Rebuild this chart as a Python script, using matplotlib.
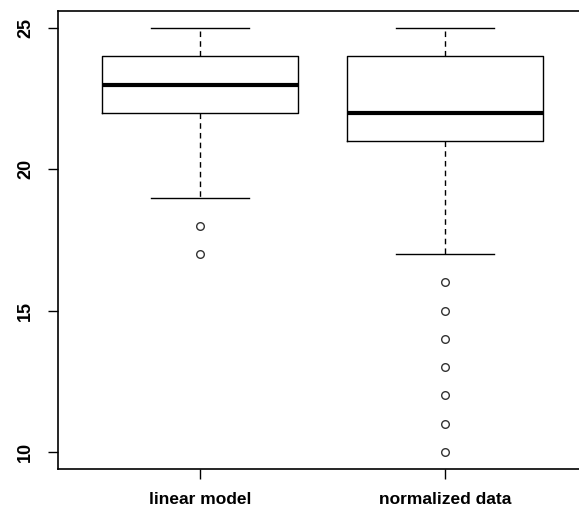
import matplotlib
matplotlib.use("Agg")
import matplotlib.pyplot as plt

# Five-number summaries and outliers for each group
groups = ["linear model", "normalized data"]
whisker_low = [19, 17]
q1 = [22, 21]
median = [23, 22]
q3 = [24, 24]
whisker_high = [25, 25]
outliers = [[18, 17], [16, 15, 14, 13, 12, 11, 10]]
y_ticks = [10, 15, 20, 25]

stats = [
    dict(label=g, whislo=lo, q1=a, med=m, q3=b, whishi=hi, fliers=f)
    for g, lo, a, m, b, hi, f in zip(groups, whisker_low, q1, median, q3,
                                      whisker_high, outliers)
]

W, H = 579, 519
fig = plt.figure(figsize=(W / 100, H / 100), dpi=100)
ax = fig.add_axes([58 / W, (H - 469) / H, (587 - 58) / W, (469 - 11) / H])

ax.bxp(
    stats,
    positions=[1, 2],
    widths=0.8,
    capwidths=0.4,
    boxprops=dict(color="black", linewidth=1.0),
    medianprops=dict(color="black", linewidth=3.0, solid_capstyle="butt"),
    whiskerprops=dict(color="black", linewidth=1.0, linestyle=(0, (4, 3))),
    capprops=dict(color="black", linewidth=1.0),
    flierprops=dict(marker="o", markersize=5.5, markerfacecolor="none",
                    markeredgecolor="#333333", markeredgewidth=1.0),
)

ax.set_xlim(0.42, 2.58)
ax.set_ylim(9.4, 25.6)
ax.set_yticks(y_ticks)
ax.set_yticklabels([str(t) for t in y_ticks], rotation=90, va="center",
                   family="Liberation Sans", fontweight="bold", fontsize=13)
ax.set_xticks([1, 2])
ax.set_xticklabels(groups, family="Liberation Sans", fontweight="bold",
                   fontsize=12.5)
ax.tick_params(axis="both", length=7.2, width=1.0, color="black")
ax.tick_params(axis="y", pad=10)
ax.tick_params(axis="x", pad=9)
for s in ax.spines.values():
    s.set_linewidth(1.2)
    s.set_color("black")

fig.savefig("out.png", dpi=100)
